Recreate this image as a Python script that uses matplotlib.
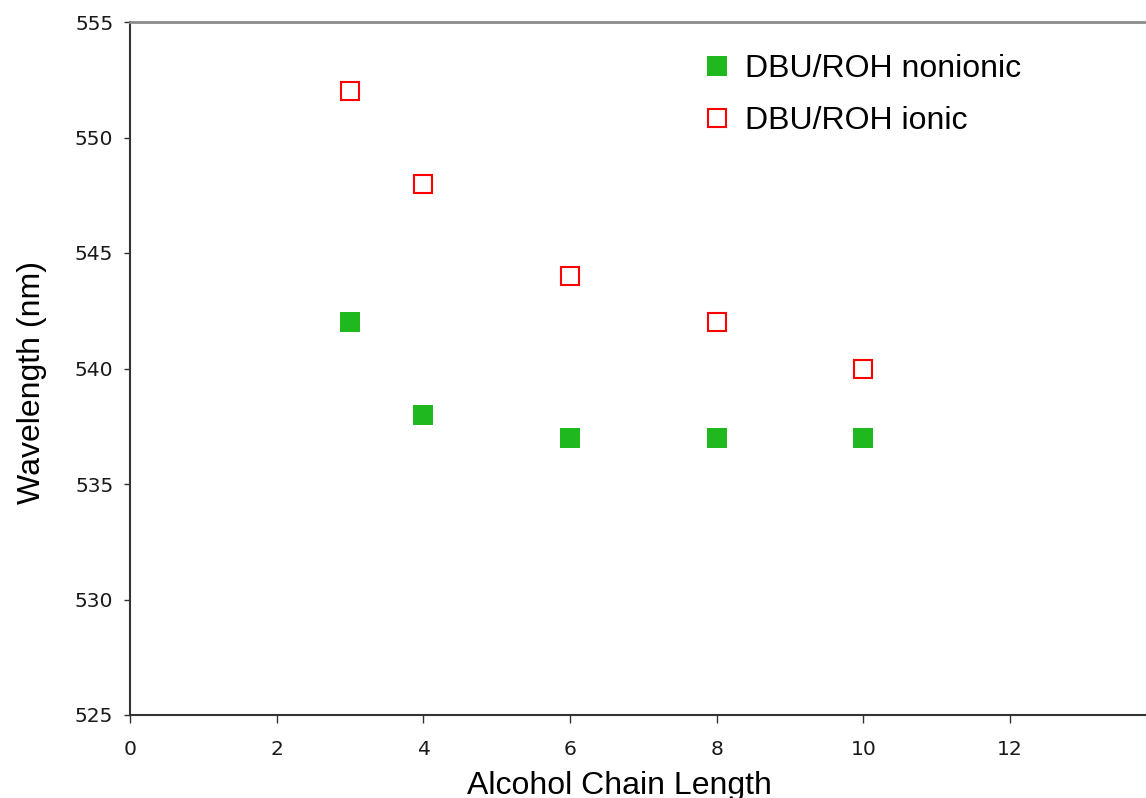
import numpy as np
import matplotlib
matplotlib.use('Agg')
import matplotlib.pyplot as plt

# data
chain = [3, 4, 6, 8, 10]
nonionic = [542, 538, 537, 537, 537]
ionic = [552, 548, 544, 542, 540]
xticks = [0, 2, 4, 6, 8, 10, 12]
yticks = [525, 530, 535, 540, 545, 550, 555]

W, H = 1146, 798
fig = plt.figure(figsize=(W / 100, H / 100), dpi=100)
# axes run to x=14, a little past the right edge of the picture
ax = fig.add_axes([130 / W, 83 / H, 1026.7 / W, 693 / H])

ax.plot(chain, nonionic, ls='none', marker='s', ms=14, mfc='#1fb81f',
        mec='#1fb81f', mew=0, label='DBU/ROH nonionic')
ax.plot(chain, ionic, ls='none', marker='s', ms=13.5, mfc='none',
        mec='#ff0000', mew=1.5, label='DBU/ROH ionic')

ax.set_xlim(0, 14)
ax.set_ylim(525, 555)
ax.set_xticks(xticks)
ax.set_yticks(yticks)

ax.spines['right'].set_visible(False)
ax.spines['top'].set_color('#8c8c8c')
ax.spines['top'].set_linewidth(2)
ax.spines['left'].set_color('#333333')
ax.spines['bottom'].set_color('#333333')
ax.spines['left'].set_linewidth(1.5)
ax.spines['bottom'].set_linewidth(1.5)

ax.tick_params(axis='y', direction='out', length=4, width=1, color='#333333',
               labelsize=14.6, pad=8, labelcolor='#1a1a1a')
ax.tick_params(axis='x', direction='out', length=6, width=1, color='#333333',
               labelsize=14.6, pad=12, labelcolor='#1a1a1a')
for lab in ax.get_xticklabels() + ax.get_yticklabels():
    lab.set_family('DejaVu Sans')

ax.set_xlabel('Alcohol Chain Length', fontsize=23, family='Liberation Sans')
ax.xaxis.set_label_coords(489 / 1026.7, -56 / 693)
ax.set_ylabel('Wavelength (nm)', fontsize=23, family='Liberation Sans')
ax.yaxis.set_label_coords(-83 / 1026.7, 332 / 693)

leg = ax.legend(loc='upper left', bbox_to_anchor=(691 / W, 1 - 38 / H),
                bbox_transform=fig.transFigure, frameon=False,
                prop={'family': 'Liberation Sans', 'size': 23},
                handlelength=0.6, handletextpad=0.6, labelspacing=0.7,
                borderpad=0)

fig.savefig('out.png', dpi=100)
